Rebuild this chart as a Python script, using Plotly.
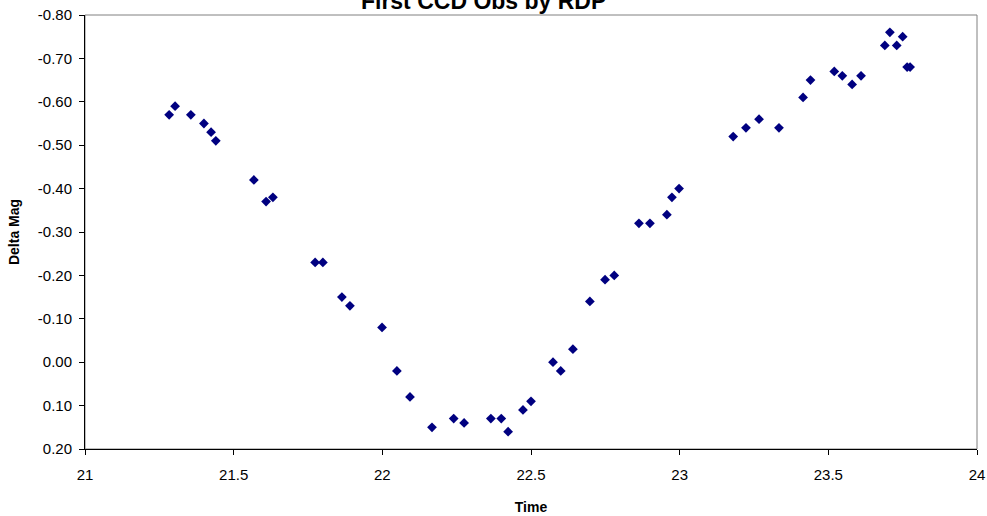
import plotly.graph_objects as go

time = [21.283, 21.303, 21.356, 21.400, 21.424, 21.440, 21.568, 21.609, 21.632,
        21.774, 21.800, 21.864, 21.891, 21.999, 22.049, 22.093, 22.167, 22.240,
        22.275, 22.365, 22.400, 22.423, 22.473, 22.500, 22.574, 22.600, 22.641,
        22.698, 22.749, 22.780, 22.863, 22.900, 22.957, 22.974, 22.998, 23.180,
        23.223, 23.267, 23.334, 23.415, 23.440, 23.520, 23.547, 23.580, 23.610,
        23.690, 23.707, 23.730, 23.750, 23.765, 23.775]
delta_mag = [-0.57, -0.59, -0.57, -0.55, -0.53, -0.51, -0.42, -0.37, -0.38,
             -0.23, -0.23, -0.15, -0.13, -0.08, 0.02, 0.08, 0.15, 0.13,
             0.14, 0.13, 0.13, 0.16, 0.11, 0.09, 0.00, 0.02, -0.03,
             -0.14, -0.19, -0.20, -0.32, -0.32, -0.34, -0.38, -0.40, -0.52,
             -0.54, -0.56, -0.54, -0.61, -0.65, -0.67, -0.66, -0.64, -0.66,
             -0.73, -0.76, -0.73, -0.75, -0.68, -0.68]

x_ticks = [21, 21.5, 22, 22.5, 23, 23.5, 24]
y_ticks = [-0.8, -0.7, -0.6, -0.5, -0.4, -0.3, -0.2, -0.1, 0.0, 0.1, 0.2]

font_family = "Liberation Sans, Arial, sans-serif"

fig = go.Figure()
fig.add_trace(go.Scatter(
    x=time, y=delta_mag, mode="markers",
    marker=dict(symbol="diamond", size=7.5, color="#000080"),
    showlegend=False, hoverinfo="x+y"))

fig.update_layout(
    width=987, height=516,
    margin=dict(l=85, r=10, t=15, b=67, autoexpand=False),
    paper_bgcolor="white", plot_bgcolor="white",
    font=dict(family=font_family, size=15, color="black"),
    title=dict(text="<b>First CCD Obs by RDP</b>", x=0.49, xanchor="center",
               y=0.999, yref="container", yanchor="middle",
               font=dict(size=23, color="black", family=font_family)),
    shapes=[dict(type="rect", xref="paper", yref="paper", x0=0, x1=1, y0=0, y1=1,
                 line=dict(color="#808080", width=1), layer="below")],
)

fig.update_xaxes(
    range=[21, 24], tickvals=x_ticks, ticktext=[str(v) for v in x_ticks],
    showgrid=False, zeroline=False, showline=True, linecolor="black", linewidth=1,
    ticks="outside", ticklen=5, tickcolor="black", ticklabelstandoff=7,
    automargin=False,
    title=dict(text="<b>Time</b>", font=dict(size=14), standoff=20),
)
fig.update_yaxes(
    range=[0.2, -0.8], tickvals=y_ticks, ticktext=[f"{v:.2f}" for v in y_ticks],
    showgrid=False, zeroline=False, showline=True, linecolor="black", linewidth=1,
    ticks="outside", ticklen=5, tickcolor="black", ticklabelstandoff=4,
    automargin=False,
    title=dict(text="<b>Delta Mag</b>", font=dict(size=14), standoff=14),
)

fig.write_html("out.html")
